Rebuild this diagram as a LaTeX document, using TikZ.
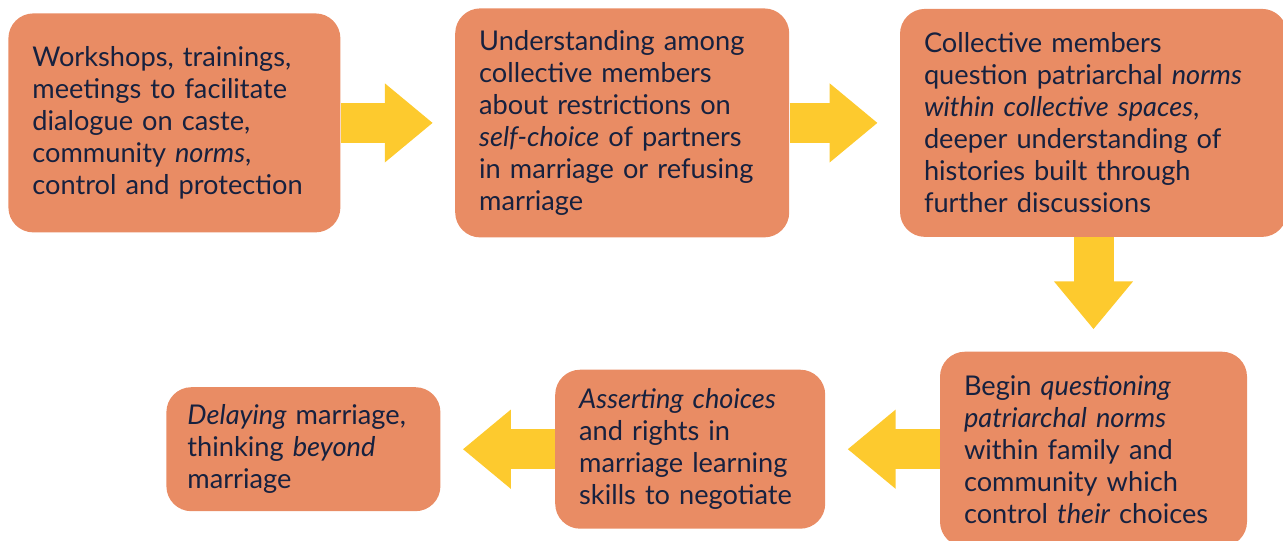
\documentclass[tikz,border=0pt]{standalone}
\usepackage{fontspec}
\setmainfont{Lato}
\usepackage{tikz}
\usetikzlibrary{arrows.meta,positioning}
\definecolor{boxOrange}{HTML}{E98C64}
\definecolor{arrYellow}{HTML}{FDCA2E}
\definecolor{textNavy}{HTML}{16213F}

\begin{document}
\begin{tikzpicture}[
x=0.5pt, y=-0.5pt,
node distance=57pt,
every node/.style={font=\fontsize{13.6pt}{16pt}\selectfont, text=textNavy},
stage/.style={fill=boxOrange, rounded corners=12.5pt, align=left, inner xsep=12pt, inner ysep=0pt},
arr/.style={-{Triangle[length=24pt, width=38pt]}, line width=20pt, draw=arrYellow, shorten >=11pt}
]
\useasboundingbox (0,0) rectangle (1283,540);
% Top row, left to right
\node[stage, text width=142pt, minimum height=109.5pt, anchor=north west] (B1) at (8,13) {Workshops, trainings,\\ meetings to facilitate\\ dialogue on caste,\\ community \textit{norms},\\ control and protection};
\node[stage, right=of B1, text width=143pt, minimum height=114.5pt] (B2) {Understanding among\\ collective members\\ about restrictions on\\ \textit{self-choice} of partners\\ in marriage or refusing\\ marriage};
\node[stage, right=55pt of B2, text width=169.5pt, minimum height=114pt] (B3) {Collective members\\ question patriarchal \textit{norms}\\ \textit{within collective spaces},\\ deeper understanding of\\ histories built through\\ further discussions};
\draw[arr] (B1) -- (B2); \draw[arr] (B2) -- (B3);

% Bottom row, right to left
\node[stage, below=of B3, text width=129.5pt, minimum height=97.5pt] (B4) {Begin \textit{questioning}\\ \textit{patriarchal norms}\\ within family and\\ community which\\ control \textit{their} choices};
\node[stage, left=of B4, text width=111pt, minimum height=79.5pt] (B5) {\textit{Asserting choices}\\ and rights in\\ marriage learning\\ skills to negotiate};
\node[stage, left=of B5, inner xsep=10.5pt, text width=116pt, minimum height=62pt] (B6) {\textit{Delaying} marriage,\\ thinking \textit{beyond}\\ marriage};
\draw[arr] (B3) -- (B4); \draw[arr] (B4) -- (B5); \draw[arr] (B5) -- (B6);

\end{tikzpicture}
\end{document}
